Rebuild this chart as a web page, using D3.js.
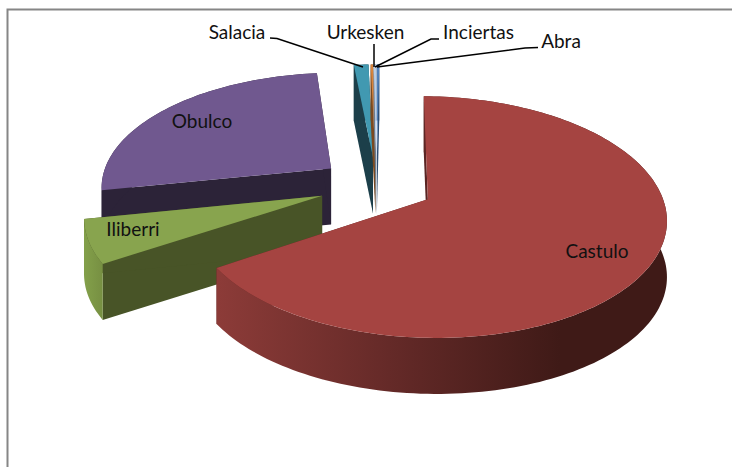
<!DOCTYPE html>
<html>
<head>
<meta charset="utf-8">
<style>
  html, body { margin: 0; padding: 0; background: #fff; }
  svg { display: block; }
  text { font-family: Lato, "Open Sans", sans-serif; font-size: 19px; fill: #111; }
</style>
<script src="https://cdn.jsdelivr.net/npm/d3@7"></script>
</head>
<body>
<div id="chart"></div>
<script>
// order follows the sheet: first slice starts at 12 o'clock, clockwise
const categories = ['Abra', 'Castulo', 'Iliberri', 'Obulco', 'Salacia', 'Urkesken', 'Inciertas'];
const shares = [0.2, 65.8, 5.9, 26.5, 1.2, 0.2, 0.2];

const topColors = ['#4f81bd', '#a54441', '#88a44e', '#70588f', '#4199b1', '#d8843c', '#b9cde5'];
const sideColors = ['#2c4d74', '#5a2523', '#485427', '#2c2338', '#1c3f4a', '#7a4a20', '#6d7d90'];
const drawOrder = ['Obulco', 'Salacia', 'Urkesken', 'Inciertas', 'Abra', 'Iliberri', 'Castulo'];

const svgWidth = 732, svgHeight = 467;
const cx = 376.5, cy = 185;
const rx = 231, ry = 114;
const tilt = 0.146;      // perspective: far side shrinks
const depth = 56;
const explode = 0.25;

const svg = d3.select('#chart').append('svg')
  .attr('width', svgWidth)
  .attr('height', svgHeight);

// chart area border, only top and left show in the crop
svg.append('path')
  .attr('d', 'M7.5,467V9.5H732')
  .attr('fill', 'none')
  .attr('stroke', '#868686')
  .attr('stroke-width', 2);

const defs = svg.append('defs');
const castuloGrad = defs.append('linearGradient')
  .attr('id', 'castuloSide')
  .attr('gradientUnits', 'userSpaceOnUse')
  .attr('x1', 218).attr('x2', 560).attr('y1', 0).attr('y2', 0);
castuloGrad.append('stop').attr('offset', 0).attr('stop-color', '#8c3b38');
castuloGrad.append('stop').attr('offset', 0.5).attr('stop-color', '#652a28');
castuloGrad.append('stop').attr('offset', 1).attr('stop-color', '#3f1a17');

const iliberriGrad = defs.append('linearGradient')
  .attr('id', 'iliberriSide')
  .attr('gradientUnits', 'userSpaceOnUse')
  .attr('x1', 84).attr('x2', 110).attr('y1', 0).attr('y2', 0);
iliberriGrad.append('stop').attr('offset', 0).attr('stop-color', '#83a04a');
iliberriGrad.append('stop').attr('offset', 1).attr('stop-color', '#72893f');

const color = d3.scaleOrdinal().domain(categories).range(topColors);
const sideColor = d3.scaleOrdinal().domain(categories).range(sideColors);

const pie = d3.pie().sort(null).value((d, i) => shares[i]);
const slices = pie(categories);

const project = (u, v, z) => {
  const w = 1 + tilt * v;
  return [cx + rx * u / w, cy - ry * v / w + depth * z];
};

const line = d3.line();
const layer = svg.append('g');

drawOrder.forEach(name => {
  const s = slices.find(d => d.data === name);
  const mid = (s.startAngle + s.endAngle) / 2;
  const u0 = explode * Math.sin(mid), v0 = explode * Math.cos(mid);
  const steps = Math.max(2, Math.ceil((s.endAngle - s.startAngle) * 40));
  const rim = d3.range(steps + 1)
    .map(i => s.startAngle + (s.endAngle - s.startAngle) * i / steps)
    .map(a => [u0 + Math.sin(a), v0 + Math.cos(a)]);

  const side = name === 'Castulo' ? 'url(#castuloSide)'
    : name === 'Iliberri' ? 'url(#iliberriSide)' : sideColor(name);

  const faces = [
    [[u0, v0], rim[0]],
    [[u0, v0], rim[rim.length - 1]]
  ];
  faces.forEach(f => {
    const poly = [project(f[0][0], f[0][1], 0), project(f[1][0], f[1][1], 0),
      project(f[1][0], f[1][1], 1), project(f[0][0], f[0][1], 1)];
    layer.append('path').attr('d', line(poly) + 'Z').attr('fill', sideColor(name));
  });

  const rimTop = rim.map(p => project(p[0], p[1], 0));
  const rimBottom = rim.map(p => project(p[0], p[1], 1)).reverse();
  layer.append('path')
    .attr('d', line(rimTop.concat(rimBottom)) + 'Z')
    .attr('fill', side);

  layer.append('path')
    .attr('d', line([project(u0, v0, 0)].concat(rimTop)) + 'Z')
    .attr('fill', color(name));
});

// leader lines and outside labels
const labelPos = {
  Salacia: { x: 237, y: 34, path: [[270, 38], [277, 38.5], [363, 67]] },
  Urkesken: { x: 365.5, y: 34, path: [[374, 44], [374, 67]] },
  Inciertas: { x: 478.5, y: 34, path: [[439, 39], [431, 39], [375, 67]] },
  Abra: { x: 561, y: 43, path: [[538, 47.5], [525, 48], [377, 67]] },
  Obulco: { x: 202, y: 123 },
  Iliberri: { x: 133, y: 231 },
  Castulo: { x: 597, y: 253 }
};

categories.forEach(name => {
  const p = labelPos[name];
  if (p.path) {
    svg.append('path')
      .attr('d', line(p.path))
      .attr('fill', 'none')
      .attr('stroke', '#000')
      .attr('stroke-width', 1.5);
  }
  svg.append('text')
    .attr('x', p.x)
    .attr('y', p.y)
    .attr('text-anchor', 'middle')
    .attr('dominant-baseline', 'middle')
    .text(name);
});
</script>
</body>
</html>
